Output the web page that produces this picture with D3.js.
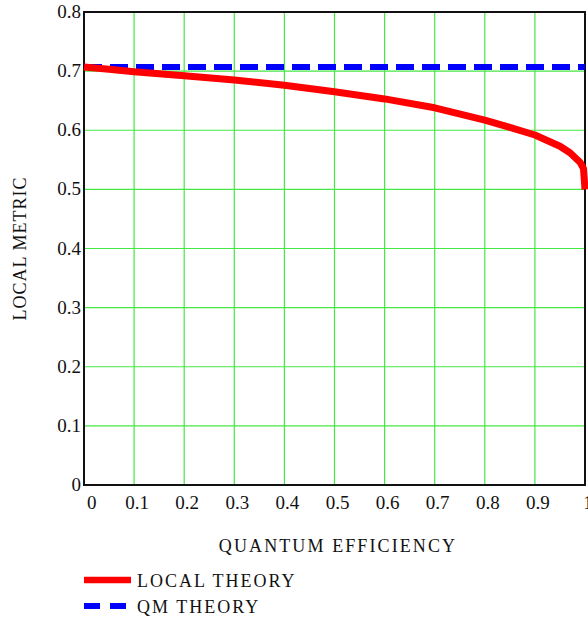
<!DOCTYPE html>
<html>
<head>
<meta charset="utf-8">
<script src="https://cdn.jsdelivr.net/npm/d3@7"></script>
<style>
  body { margin: 0; background: #fff; }
  text { font-family: "Liberation Serif", "DejaVu Serif", serif; fill: #111; }
</style>
</head>
<body>
<div id="chart"></div>
<script>
// values
const efficiency = [0, 0.05, 0.1, 0.2, 0.3, 0.4, 0.5, 0.6, 0.7, 0.8, 0.85, 0.9, 0.95, 0.97, 0.99, 0.997, 1.0];
const localTheory = [0.707, 0.703, 0.699, 0.692, 0.685, 0.676, 0.665, 0.653, 0.638, 0.617, 0.605, 0.592, 0.573, 0.562, 0.546, 0.535, 0.500];
const qmTheory = [0.7071, 0.7071];
const qmX = [0, 1];
const xTicks = [0, 0.1, 0.2, 0.3, 0.4, 0.5, 0.6, 0.7, 0.8, 0.9, 1];
const yTicks = [0, 0.1, 0.2, 0.3, 0.4, 0.5, 0.6, 0.7, 0.8];
const legendNames = ["LOCAL THEORY", "QM THEORY"];

const width = 588, height = 617;
const plot = { left: 84, right: 585, top: 12, bottom: 485 };

const svg = d3.select("#chart")
    .append("svg")
    .attr("width", width)
    .attr("height", height);

const xScale = d3.scaleLinear().domain([0, 1]).range([plot.left, plot.right]);
const yScale = d3.scaleLinear().domain([0, 0.8]).range([plot.bottom, plot.top]);

// grid
svg.append("g")
    .selectAll("line")
    .data(xTicks.slice(1, -1))
    .join("line")
    .attr("x1", d => xScale(d)).attr("x2", d => xScale(d))
    .attr("y1", plot.top).attr("y2", plot.bottom)
    .attr("stroke", "#44e844").attr("stroke-width", 1.2);

svg.append("g")
    .selectAll("line")
    .data(yTicks.slice(1, -1))
    .join("line")
    .attr("x1", plot.left).attr("x2", plot.right)
    .attr("y1", d => yScale(d)).attr("y2", d => yScale(d))
    .attr("stroke", "#44e844").attr("stroke-width", 1.2);

// frame
svg.append("rect")
    .attr("x", plot.left).attr("y", plot.top)
    .attr("width", plot.right - plot.left)
    .attr("height", plot.bottom - plot.top)
    .attr("fill", "none")
    .attr("stroke", "#111")
    .attr("stroke-width", 2);

// tick labels
svg.append("g")
    .selectAll("text")
    .data(yTicks)
    .join("text")
    .attr("x", plot.left - 3)
    .attr("y", d => yScale(d) + 6)
    .attr("text-anchor", "end")
    .style("font-size", "19px")
    .text(d => d === 0 ? "0" : d3.format(".1f")(d));

svg.append("g")
    .selectAll("text")
    .data(xTicks)
    .join("text")
    .attr("x", d => xScale(d) + 3)
    .attr("y", 509)
    .attr("text-anchor", d => d === 0 ? "start" : "middle")
    .style("font-size", "19px")
    .text(d => d === 0 ? "0" : d === 1 ? "1" : d3.format(".1f")(d));

// axis titles
svg.append("text")
    .attr("transform", `translate(26,${(plot.top + plot.bottom) / 2}) rotate(-90)`)
    .attr("text-anchor", "middle")
    .style("font-size", "18px")
    .style("letter-spacing", "1px")
    .text("LOCAL METRIC");

svg.append("text")
    .attr("x", 338)
    .attr("y", 552)
    .attr("text-anchor", "middle")
    .style("font-size", "18px")
    .style("letter-spacing", "2.1px")
    .text("QUANTUM EFFICIENCY");

// series
svg.append("path")
    .attr("d", d3.line()
        .x(d => xScale(d[0]))
        .y(d => yScale(d[1]))(qmX.map((x, i) => [x, qmTheory[i]])))
    .attr("fill", "none")
    .attr("stroke", "#0000ff")
    .attr("stroke-width", 6)
    .attr("stroke-dasharray", "18,8");

svg.append("path")
    .attr("d", d3.line()
        .x(d => xScale(d[0]))
        .y(d => yScale(d[1]))(efficiency.map((x, i) => [x, localTheory[i]])))
    .attr("fill", "none")
    .attr("stroke", "#ff0000")
    .attr("stroke-width", 7)
    .attr("stroke-linejoin", "round");

// legend
const legend = svg.append("g");
const legendStyles = [
    { color: "#ff0000", dash: null, width: 6.5 },
    { color: "#0000ff", dash: "16,10", width: 6 }
];
legendNames.forEach((name, i) => {
    const y = 580 + i * 26;
    legend.append("line")
        .attr("x1", 84).attr("x2", 131)
        .attr("y1", y).attr("y2", y)
        .attr("stroke", legendStyles[i].color)
        .attr("stroke-width", legendStyles[i].width)
        .attr("stroke-dasharray", legendStyles[i].dash);
    legend.append("text")
        .attr("x", 137)
        .attr("y", y + 7)
        .style("font-size", "18px")
        .style("letter-spacing", "2px")
        .text(name);
});
</script>
</body>
</html>
